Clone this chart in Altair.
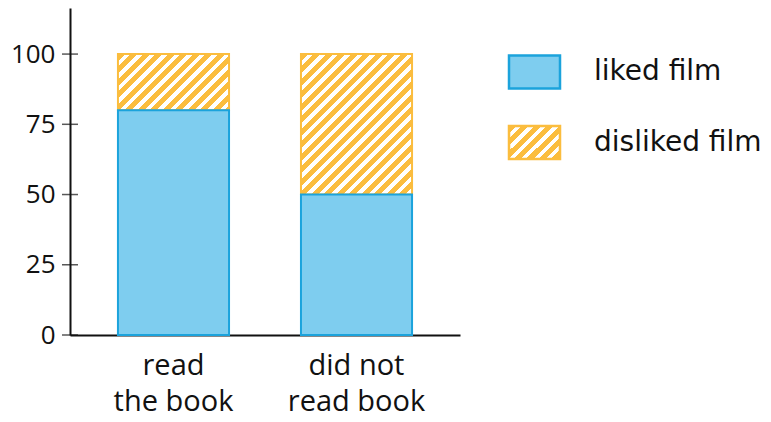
import altair as alt
import pandas as pd

categories = ["read\nthe book", "did not\nread book"]
responses = ["liked film", "disliked film"]
liked = [80, 50]
disliked = [20, 50]
y_ticks = [0, 25, 50, 75, 100]

BLUE = "#7ecdef"
BLUE_STROKE = "#1ba3dc"
YELLOW = "#fbbd3e"
INK = "#111111"

W, H = 390, 327
YMAX = 116.4
PI, PO = 0.393, 0.262
step = W / (len(categories) - PI + 2 * PO)
bw = step * (1 - PI)
px_per_unit = H / YMAX


def hatch(w, h, period=12.5, frac=0.58):
    n = (w + h) / period
    stops = []
    k = 0
    while k < n:
        a = k / n
        b = min((k + frac) / n, 1)
        c = min((k + 1) / n, 1)
        stops += [
            {"offset": a, "color": YELLOW},
            {"offset": b, "color": YELLOW},
            {"offset": b, "color": "white"},
            {"offset": c, "color": "white"},
        ]
        k += 1
    s = (w + h) / (w * w + h * h)
    return {"gradient": "linear", "x1": 0, "y1": 0, "x2": w * s, "y2": h * s, "stops": stops}


rows = []
for i, c in enumerate(categories):
    rows.append({"category": c, "response": responses[0], "y0": 0, "y1": liked[i]})
    rows.append({"category": c, "response": responses[1], "y0": liked[i], "y1": liked[i] + disliked[i]})
df = pd.DataFrame(rows)
ticks_df = pd.DataFrame({"y0": y_ticks})
legend_df = pd.DataFrame({"response": responses})

x_enc = alt.X(
    "category:N",
    sort=categories,
    scale=alt.Scale(paddingInner=PI, paddingOuter=PO),
    axis=alt.Axis(
        title=None, labelAngle=0, ticks=False, labelFont="Open Sans", labelFontSize=29,
        labelLineHeight=36, labelColor=INK, labelPadding=16,
        labelExpr="split(datum.label, '\\n')", domainColor=INK, domainWidth=2,
    ),
)
y_scale = alt.Scale(domain=[0, YMAX], nice=False)
y_enc = alt.Y(
    "y0:Q",
    scale=y_scale,
    axis=alt.Axis(
        title=None, values=y_ticks, grid=False, ticks=False,
        labelFont="Open Sans", labelFontSize=26, labelColor=INK, labelPadding=15,
        domainColor=INK, domainWidth=2,
    ),
)

base = alt.Chart(df)

hatch_layers = []
for i, c in enumerate(categories):
    g = hatch(bw, disliked[i] * px_per_unit)
    hatch_layers.append(
        base.transform_filter(
            (alt.datum.category == c) & (alt.datum.response == responses[1])
        ).mark_bar(fill=g, stroke=YELLOW, strokeWidth=2).encode(x=x_enc, y=y_enc, y2="y1:Q")
    )

liked_layer = base.transform_filter(alt.datum.response == responses[0]).mark_bar(
    fill=BLUE, stroke=BLUE_STROKE, strokeWidth=2
).encode(x=x_enc, y=y_enc, y2="y1:Q")

tick_layer = alt.Chart(ticks_df).mark_tick(
    orient="horizontal", size=16, thickness=1.5, color=INK
).encode(y=alt.Y("y0:Q", scale=y_scale), x=alt.value(0))

plot = alt.layer(*hatch_layers, liked_layer, tick_layer)

# legend
leg_y = alt.Y("response:N", scale=alt.Scale(domain=responses, range=[64, 134.5], padding=0), axis=None)
SYMBOL = "M-1,-0.647H1V0.647H-1Z"
leg_base = alt.Chart(legend_df)
leg_liked = leg_base.transform_filter(alt.datum.response == responses[0]).mark_point(
    shape=SYMBOL, size=2601, filled=True, fill=BLUE, stroke=BLUE_STROKE, strokeWidth=2.5, opacity=1
).encode(y=leg_y, x=alt.value(464.5))
leg_dis = leg_base.transform_filter(alt.datum.response == responses[1]).mark_point(
    shape=SYMBOL, size=2601, filled=True, fill=hatch(51, 33), stroke=YELLOW, strokeWidth=2.5, opacity=1
).encode(y=leg_y, x=alt.value(464.5))
leg_text = leg_base.mark_text(
    align="left", baseline="middle", font="DejaVu Sans", fontSize=28, color=INK
).encode(y=leg_y, x=alt.value(524), text="response:N")
legend = alt.layer(leg_liked, leg_dis, leg_text)

chart = alt.layer(plot, legend).resolve_scale(y="independent").properties(
    width=W, height=H,
    padding={"left": 62, "top": 0, "right": 303, "bottom": 79},
    autosize="none",
).configure_view(stroke=None)

chart.save("out.html", embed_options={"renderer": "svg", "actions": False})
